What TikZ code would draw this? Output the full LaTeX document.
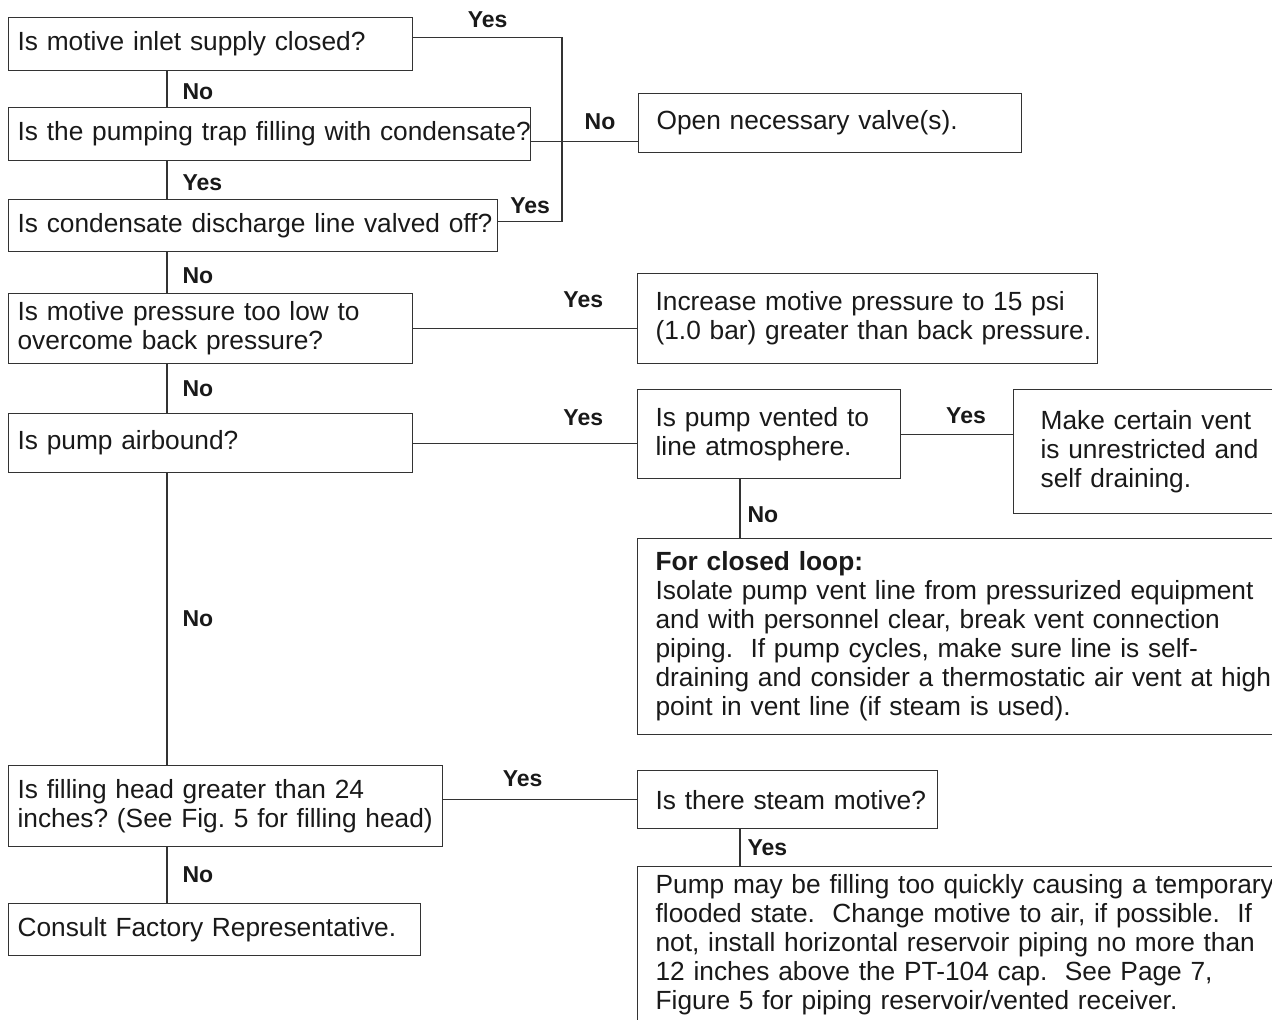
\documentclass[tikz,border=0pt]{standalone}
\usepackage{fontspec}
\setmainfont{Liberation Sans}
\usepackage{tikz}
\usetikzlibrary{positioning,calc}

\frenchspacing
\newcommand{\bodyfont}{\fontsize{26.3}{29}\selectfont}
\newcommand{\lblfont}{\fontsize{23}{26}\selectfont\bfseries}

\tikzset{
  box/.style={draw=black!80, line width=1.2pt, anchor=north west, align=left,
    inner ysep=0pt, font=\bodyfont, text=black!90},
  qbox/.style={box, inner xsep=9pt},
  abox/.style={box, inner xsep=18pt},
  lbl/.style={font=\lblfont, inner sep=0pt, text=black!90},
  link/.style={draw=black!80, line width=1.2pt},
}

\begin{document}
\begin{tikzpicture}[x=1pt, y=-1pt]
    \useasboundingbox (0,0) rectangle (1272,1020);
    \clip (0,0) rectangle (1272,1020);
    % guide coordinates for the trunk lines
    \coordinate (lx) at (167,0);
    \coordinate (jn) at (562,0);
    \coordinate (vx) at (740,0);

    % left column of questions
    \node[qbox, minimum width=404pt, text width=386pt, minimum height=53pt] (q1) at (8,17) {Is motive inlet supply closed?};
    \node[qbox, minimum width=522pt, text width=504pt, minimum height=53pt] (q2) at (8,107) {\mbox{Is the pumping trap filling with condensate?}};
    \node[qbox, minimum width=489pt, text width=471pt, minimum height=52pt] (q3) at (8,199) {\mbox{Is condensate discharge line valved off?}};
    \node[qbox, minimum width=404pt, text width=386pt, minimum height=70pt] (q4) at (8,293) {Is motive pressure too low to\\overcome back pressure?};
    \node[qbox, minimum width=404pt, text width=386pt, minimum height=59pt] (q5) at (8,413) {Is pump airbound?};
    \node[qbox, minimum width=434pt, text width=416pt, minimum height=81pt] (q6) at (8,765) {\mbox{Is filling head greater than 24}\\\mbox{inches? (See Fig. 5 for filling head)}};
    \node[qbox, minimum width=412pt, text width=394pt, minimum height=52pt] (q7) at (8,903) {Consult Factory Representative.};

    % right column of actions
    \node[abox, minimum width=383pt, text width=347pt, minimum height=59pt] (a1) at (638,93) {Open necessary valve(s).};
    \node[abox, minimum width=460pt, text width=424pt, minimum height=90pt] (a2) at (637,273) {\mbox{Increase motive pressure to 15 psi}\\\mbox{(1.0 bar) greater than back pressure.}};
    \node[abox, minimum width=263pt, text width=227pt, minimum height=89pt] (a3) at (637,389) {Is pump vented to\\line atmosphere.};
    \node[abox, inner xsep=27pt, minimum width=300pt, text width=246pt, minimum height=124pt] (a4) at (1013,389) {Make certain vent\\is unrestricted and\\self draining.};
    \node[abox, minimum width=700pt, text width=664pt, minimum height=196pt] (a5) at (637,538) {\textbf{For closed loop:}\\Isolate pump vent line from pressurized equipment\\and with personnel clear, break vent connection\\piping.~ If pump cycles, make sure line is self-\\draining and consider a thermostatic air vent at high\\point in vent line (if steam is used).};
    \node[abox, minimum width=300pt, text width=264pt, minimum height=58pt] (a6) at (637,770) {\mbox{Is there steam motive?}};
    \node[abox, minimum width=700pt, text width=664pt, minimum height=156pt] (a7) at (637,866) {Pump may be filling too quickly causing a temporary\\flooded state.~ Change motive to air, if possible.~ If\\not, install horizontal reservoir piping no more than\\12 inches above the PT-104 cap.~ See Page 7,\\Figure 5 for piping reservoir/vented receiver.};

    % trunk down the left side
    \draw[link] (q1.south -| lx) -- node[lbl, right=15pt, yshift=-3pt] {No} (q2.north -| lx);
    \draw[link] (q2.south -| lx) -- node[lbl, right=15pt, yshift=-3pt] {Yes} (q3.north -| lx);
    \draw[link] (q3.south -| lx) -- node[lbl, right=15pt, yshift=-3pt] {No} (q4.north -| lx);
    \draw[link] (q4.south -| lx) -- node[lbl, right=15pt] {No} (q5.north -| lx);
    \draw[link] (q5.south -| lx) -- node[lbl, right=15pt] {No} (q6.north -| lx);
    \draw[link] (q6.south -| lx) -- node[lbl, right=15pt] {No} (q7.north -| lx);

    % joined branch from the first three questions
    \coordinate (q1r) at ([yshift=6.5pt]q1.east);
    \coordinate (q2r) at ([yshift=-7.5pt]q2.east);
    \coordinate (q3r) at ([yshift=4pt]q3.east);
    \draw[link] (q1r) -- node[lbl, above=9pt] {Yes} (q1r -| jn) -- (q3r -| jn)
        -- node[lbl, above=7pt] {Yes} (q3r);
    \draw[link] (q2r) -- (q2r -| jn) -- node[lbl, above=11pt] {No} (q2r -| a1.west);

    % branches to the right
    \draw[link] (q4.east) -- node[lbl, pos=0.76, above=20pt] {Yes} (q4.east -| a2.west);
    \draw[link] (q5.east) -- node[lbl, pos=0.76, above=17pt] {Yes} (q5.east -| a3.west);
    \draw[link] (a3.east) -- node[lbl, pos=0.58, above=10pt] {Yes} (a3.east -| a4.west);
    \draw[link] (a3.south -| vx) -- node[lbl, right=7pt, yshift=-6pt] {No} (a5.north -| vx);
    \draw[link] (q6.east |- a6.west) -- node[lbl, pos=0.41, above=12pt] {Yes} (a6.west);
    \draw[link] (a6.south -| vx) -- node[lbl, right=7pt] {Yes} (a7.north -| vx);
\end{tikzpicture}
\end{document}
